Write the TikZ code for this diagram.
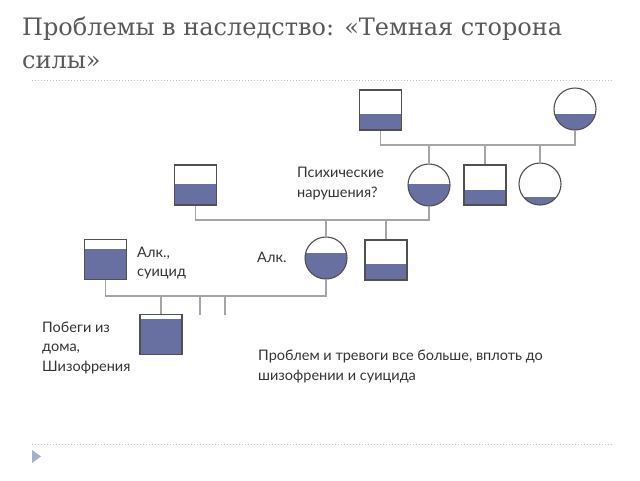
\documentclass[tikz,border=0pt]{standalone}
\usepackage{fontspec}
\newfontfamily\titlefont{DejaVu Serif}
\newfontfamily\bodyfont{Lato}
\definecolor{symfill}{RGB}{104,112,162}
\definecolor{symline}{RGB}{80,80,80}
\definecolor{linkgray}{RGB}{165,165,165}
\definecolor{rulegray}{RGB}{195,195,195}
\definecolor{bullet}{RGB}{160,178,196}
\tikzset{
  lvl/.store in=\lvl, lvl=0pt,
  sym/.style={draw=symline, line width=1.1pt, inner sep=0pt,
    path picture={\fill[symfill] (path picture bounding box.south west) rectangle ([yshift=\lvl]path picture bounding box.south east);}},
  sq/.style={sym, rectangle, minimum width=42pt, minimum height=40pt},
  ci/.style={sym, circle, minimum size=42pt},
  link/.style={draw=linkgray, line width=1.3pt},
  lbl/.style={anchor=west, align=left, inner sep=0pt, text=black!80,
    font=\bodyfont\fontsize{14.5}{19.5}\selectfont}
}
\begin{document}
\begin{tikzpicture}[x=1pt,y=-1pt]
	\useasboundingbox (0,0) rectangle (640,480);
	% title and rules
	\node[anchor=north west, align=left, inner sep=0pt, text=black!65,
	  font=\titlefont\fontsize{24}{33}\selectfont] (title) at (22,17)
	  {Проблемы в наследство: «Темная сторона\\силы»};
	\draw [rulegray, dotted, line width=1pt] (32,80) -- (612,80);
	\draw [rulegray, dotted, line width=1pt] (32,444) -- (612,444);
	\fill [bullet] (32,450) -- (41,456.5) -- (32,463) -- cycle;
	% generation 1
	\node[sq, lvl=16pt] (gf) at (380.5,110) {};
	\node[ci, lvl=16pt] (gm) at (575,109) {};
	% generation 2
	\node[ci, lvl=22pt] (m1) at (429,185) {};
	\node[sq, lvl=15pt] (u1) at (485,185) {};
	\node[ci, lvl=8pt] (a1) at (540,184) {};
	\node[sq, lvl=21pt] (f1) at (195.5,185) {};
	% generation 3
	\node[ci, lvl=26pt] (m2) at (326,258) {};
	\node[sq, lvl=16pt] (u2) at (386,260) {};
	\node[sq, lvl=31pt] (f2) at (105.5,259.5) {};
	% generation 4
	\node[sq, lvl=36pt] (c) at (161,334.5) {};
	% connectors
	\coordinate (mA) at (0,145);
	\coordinate (mB) at (0,220);
	\coordinate (mC) at (0,296);
	\coordinate (s1) at (200,315);
	\coordinate (s2) at (225,315);
	\draw [link] (gf.south) |- (mA -| gm) -- (gm.south);
	\draw [link] (m1.north) -- (m1 |- mA);
	\draw [link] (u1.north) -- (u1 |- mA);
	\draw [link] (a1.north) -- (a1 |- mA);
	\draw [link] (f1.south) |- (mB -| m1) -- (m1.south);
	\draw [link] (m2.north) -- (m2 |- mB);
	\draw [link] (u2.north) -- (u2 |- mB);
	\draw [link] (f2.south) |- (mC -| m2) -- (m2.south);
	\draw [link] (c.north) -- (c |- mC);
	\draw [link] (s1) -- (s1 |- mC);
	\draw [link] (s2) -- (s2 |- mC);
	% labels
	\node[lbl] (psy) at (297,183.5) {Психические\\нарушения?};
	\node[lbl] (alk) at (257,257) {Алк.};
	\node[lbl] (alks) at (137,263) {Алк.,\\суицид};
	\node[lbl] (run) at (42,348) {Побеги из\\дома,\\Шизофрения};
	\node[lbl] (more) at (258,366.5) {Проблем и тревоги все больше, вплоть до\\шизофрении и суицида};
\end{tikzpicture}
\end{document}
